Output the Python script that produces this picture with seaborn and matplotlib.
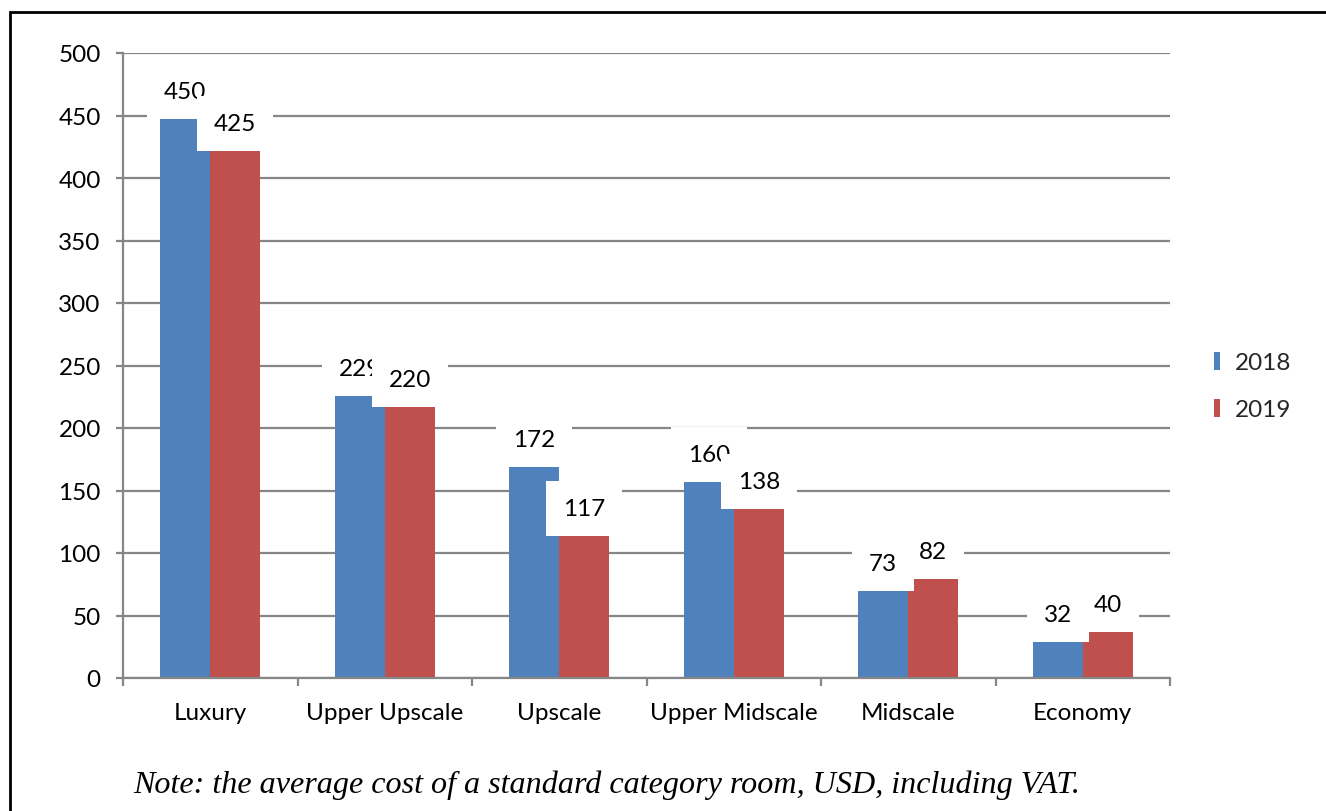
import matplotlib
matplotlib.use("Agg")
import matplotlib.pyplot as plt
import seaborn as sns
import pandas as pd
from matplotlib.patches import Rectangle

categories = ["Luxury", "Upper Upscale", "Upscale", "Upper Midscale", "Midscale", "Economy"]
values_2018 = [450, 229, 172, 160, 73, 32]
values_2019 = [425, 220, 117, 138, 82, 40]
years = ["2018", "2019"]
colors = ["#4F81BD", "#C0504D"]
yticks = [0, 50, 100, 150, 200, 250, 300, 350, 400, 450, 500]
note = "Note: the average cost of a standard category room, USD, including VAT."

df = pd.DataFrame({
    "Category": categories * 2,
    "Year": [years[0]] * len(categories) + [years[1]] * len(categories),
    "Value": values_2018 + values_2019,
})

sns.set_style("white")
plt.rcParams["font.family"] = ["Lato", "DejaVu Sans"]

FS = 17.5
W, H = 1326, 812
fig = plt.figure(figsize=(W / 100, H / 100), dpi=100)
ax = fig.add_axes([123 / W, 1 - 679 / H, (1170 - 123) / W, (679 - 54) / H])

sns.barplot(data=df, x="Category", y="Value", hue="Year", order=categories,
            hue_order=years, palette=colors, width=0.573, gap=0, saturation=1,
            edgecolor="none", linewidth=0, ax=ax, legend=False)

grid_c = "#868686"
ax.set_ylim(0, 500)
ax.set_xlim(-0.5, len(categories) - 0.5)
ax.set_yticks(yticks)
ax.yaxis.grid(True, color=grid_c, linewidth=1.6)
ax.set_axisbelow(True)
ax.set_xlabel("")
ax.set_ylabel("")
for s in ["top", "right"]:
    ax.spines[s].set_visible(False)
for s in ["left", "bottom"]:
    ax.spines[s].set_color(grid_c)
    ax.spines[s].set_linewidth(1.6)

ax.tick_params(axis="y", direction="out", length=5, width=1.6, color=grid_c,
               pad=11, labelsize=FS, labelcolor="black", left=True)
ax.set_xticks(range(len(categories)))
ax.set_xticklabels(categories)
ax.tick_params(axis="x", which="major", length=0, pad=17, labelsize=FS, labelcolor="black")
ax.set_xticks([i - 0.5 for i in range(len(categories) + 1)], minor=True)
ax.tick_params(axis="x", which="minor", direction="out", length=6, width=1.6,
               color=grid_c, bottom=True)

# value labels with white boxes
for k, cont in enumerate(ax.containers):
    vals = values_2018 if k == 0 else values_2019
    for bar, v in zip(cont, vals):
        xc = bar.get_x() + bar.get_width() / 2
        ax.annotate(str(v), xy=(xc, v), xytext=(0, 17), textcoords="offset points",
                    ha="center", va="center", fontsize=FS, color="black",
                    zorder=5 + k,
                    bbox=dict(boxstyle="square,pad=0.7", fc="white", ec="none"))

# legend
handles = [Rectangle((0, 0), 1, 1, fc=c, ec="none") for c in colors]
fig.legend(handles, years, loc="center left", bbox_to_anchor=(1204 / W, 1 - 387 / H),
           frameon=False, fontsize=FS, handlelength=0.25, handleheight=0.75,
           handletextpad=0.6, labelspacing=1.05, borderaxespad=0)

# note
fig.text(133 / W, 1 - 785 / H, note, family="Liberation Serif", style="italic",
         fontsize=23.1, ha="left", va="center", color="black")

# outer border
fig.patches.append(Rectangle((10 / W, -0.1), 1.2, 1 - 13 / H + 0.1, transform=fig.transFigure,
                             fill=False, ec="black", lw=2, clip_on=False))

fig.savefig("out.png", dpi=100)
